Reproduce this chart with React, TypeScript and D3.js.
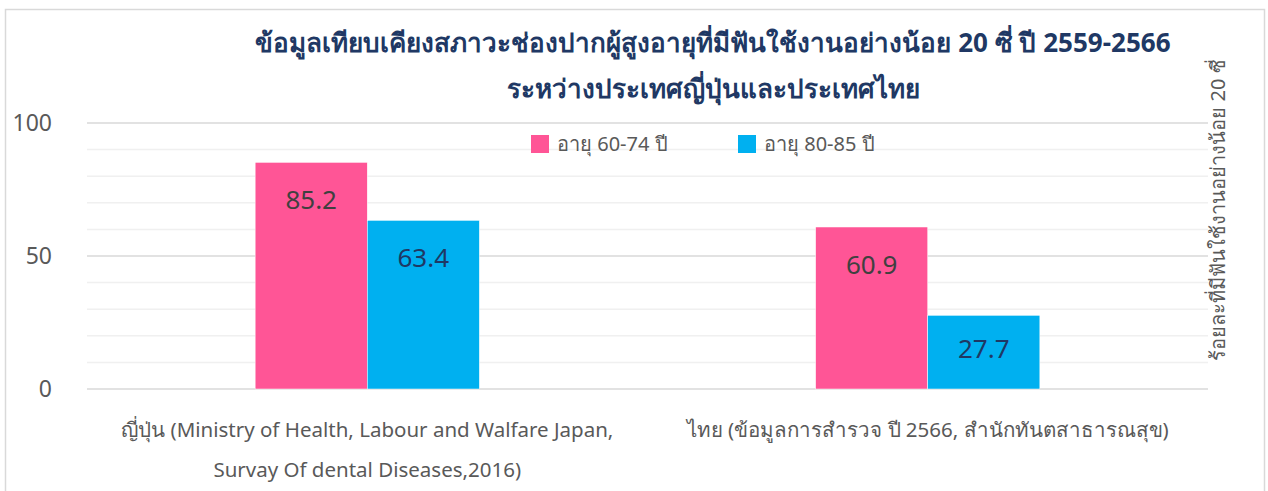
import React from "react";
import * as d3 from "d3";

const categories = [
  ["ญี่ปุ่น (Ministry of Health, Labour and Walfare Japan,", "Survay Of dental Diseases,2016)"],
  ["ไทย (ข้อมูลการสำรวจ ปี 2566, สำนักทันตสาธารณสุข)"],
];
const categoryKeys = ["japan", "thai"];
const seriesNames = ["อายุ 60-74 ปี", "อายุ 80-85 ปี"];
const series6074 = [85.2, 60.9];
const series8085 = [63.4, 27.7];
const yTicks = [0, 50, 100];
const minorTicks = [10, 20, 30, 40, 60, 70, 80, 90];
const titleLines = [
  "ข้อมูลเทียบเคียงสภาวะช่องปากผู้สูงอายุที่มีฟันใช้งานอย่างน้อย 20 ซี่ ปี 2559-2566",
  "ระหว่างประเทศญี่ปุ่นและประเทศไทย",
];
const rightAxisTitle = "ร้อยละที่มีฟันใช้งานอย่างน้อย 20 ซี่";

const colors = ["#FF5596", "#00B0F0"];
const labelColors = ["#404040", "#1F3864"];
const FONT = "'Noto Sans', 'Open Sans', sans-serif";

export default function App() {
  const W = 1268, H = 491;
  const left = 87, right = 1208, top = 123, bottom = 389;
  const x = d3.scaleBand().domain(categoryKeys).range([left, right]).padding(0);
  const y = d3.scaleLinear().domain([0, 100]).range([bottom, top]);
  const inner = d3.scaleBand().domain(["a", "b"]).range([0, x.bandwidth()]).paddingInner(0).paddingOuter(1.5);
  const seriesVals = [series6074, series8085];

  return (
    <svg width={W} height={H} style={{ position: "absolute", left: 0, top: 0, display: "block" }}>
      <rect x={0} y={0} width={W} height={H} fill="#fff" />
      <rect x={5.5} y={9.5} width={1259} height={500} fill="none" stroke="#d9d9d9" strokeWidth={1.5} />
      {minorTicks.map((t) => (
        <line key={"m" + t} x1={left} x2={right} y1={y(t)} y2={y(t)} stroke="#f0f0f0" strokeWidth={1.5} />
      ))}
      {yTicks.map((t) => (
        <line key={"g" + t} x1={left} x2={right} y1={y(t)} y2={y(t)} stroke="#d9d9d9" strokeWidth={1.5} />
      ))}
      {yTicks.map((t) => (
        <text key={"t" + t} x={52} y={y(t) + 8} textAnchor="end" fontSize={23} fill="#595959" fontFamily={FONT}>
          {t}
        </text>
      ))}
      {categoryKeys.map((c, i) => (
        <g key={c}>
          {seriesVals.map((vals, s) => {
            const bx = (x(c) as number) + (inner(s === 0 ? "a" : "b") as number);
            const bw = inner.bandwidth();
            const by = y(vals[i]);
            return (
              <g key={s}>
                <rect x={bx} y={by} width={bw} height={bottom - by} fill={colors[s]} stroke="#fff" strokeWidth={0.5} />
                <text x={bx + bw / 2} y={Math.min(by + 47, bottom - 31)} textAnchor="middle" fontSize={26} fill={labelColors[s]} fontFamily={FONT}>
                  {vals[i]}
                </text>
              </g>
            );
          })}
          {categories[i].map((line, k) => (
            <text key={k} x={(x(c) as number) + x.bandwidth() / 2} y={437 + k * 40} textAnchor="middle" fontSize={20.5} fill="#595959" fontFamily={FONT}>
              {line}
            </text>
          ))}
        </g>
      ))}
      {titleLines.map((t, k) => (
        <text key={k} x={713} y={52 + k * 46} textAnchor="middle" fontSize={26} fontWeight="bold" fill="#203864" fontFamily={FONT}>
          {t}
        </text>
      ))}
      {seriesNames.map((n, s) => (
        <g key={n} transform={`translate(${531 + s * 207},135)`}>
          <rect x={0} y={0} width={18} height={18} fill={colors[s]} />
          <text x={26} y={16} fontSize={20} fill="#595959" fontFamily={FONT}>{n}</text>
        </g>
      ))}
      <text transform={`translate(1225,210) rotate(-90)`} textAnchor="middle" fontSize={20} fill="#595959" fontFamily={FONT}>
        {rightAxisTitle}
      </text>
    </svg>
  );
}
